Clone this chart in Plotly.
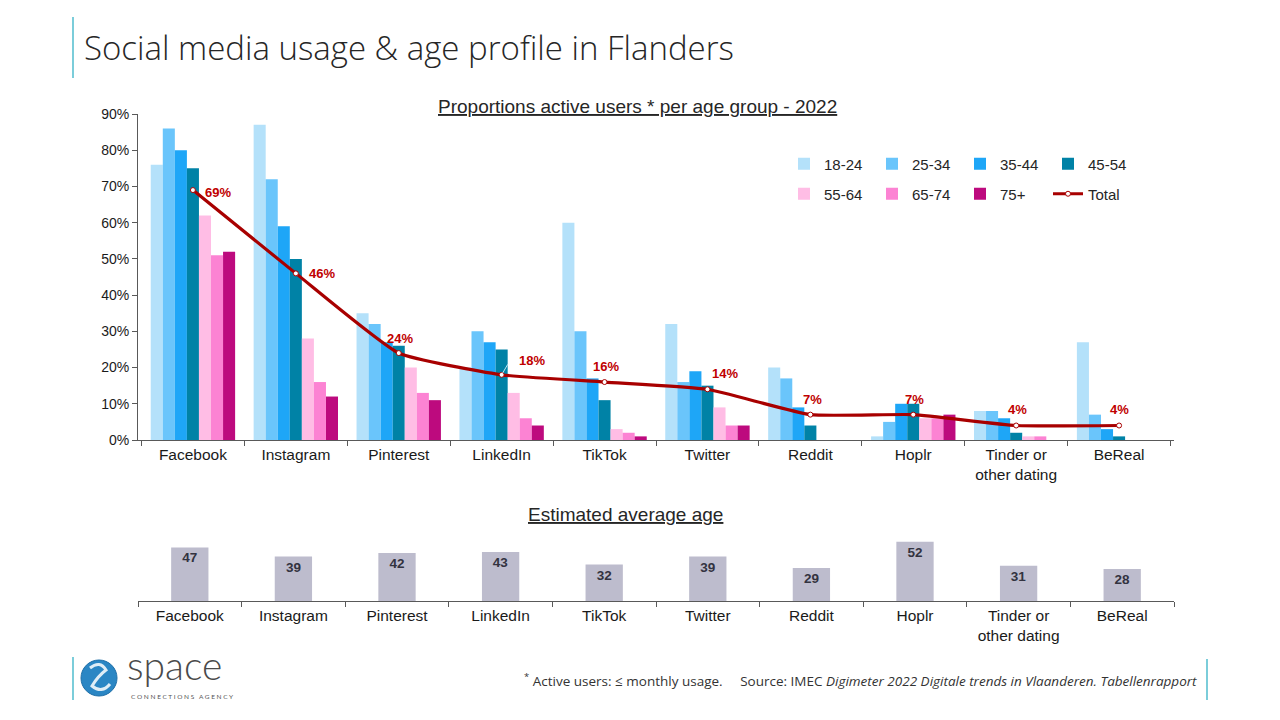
import plotly.graph_objects as go

W, H = 1280, 720

# ---------------- data ----------------
platforms = ["Facebook", "Instagram", "Pinterest", "LinkedIn", "TikTok", "Twitter",
             "Reddit", "Hoplr", "Tinder or<br>other dating", "BeReal"]
age_groups = ["18-24", "25-34", "35-44", "45-54", "55-64", "65-74", "75+"]
share_18_24 = [76, 87, 35, 20, 60, 32, 20, 1, 8, 27]
share_25_34 = [86, 72, 32, 30, 30, 16, 17, 5, 8, 7]
share_35_44 = [80, 59, 27, 27, 17, 19, 9, 10, 6, 3]
share_45_54 = [75, 50, 26, 25, 11, 15, 4, 10, 2, 1]
share_55_64 = [62, 28, 20, 13, 3, 9, 0, 6, 1, 0]
share_65_74 = [51, 16, 13, 6, 2, 4, 0, 6, 1, 0]
share_75_plus = [52, 12, 11, 4, 1, 4, 0, 7, 0, 0]
total_share = [69, 46, 24, 18, 16, 14, 7, 7, 4, 4]
avg_age = [47, 39, 42, 43, 32, 39, 29, 52, 31, 28]
y_tick_vals = [0, 10, 20, 30, 40, 50, 60, 70, 80, 90]
y_tick_text = ["0%", "10%", "20%", "30%", "40%", "50%", "60%", "70%", "80%", "90%"]

# ---------------- styles ----------------
age_colors = ["#B4E1FA", "#6AC5FB", "#1EA6F7", "#0082A6", "#FFBDE5", "#FC83D3", "#BD0A7E"]
series = [share_18_24, share_25_34, share_35_44, share_45_54, share_55_64, share_65_74, share_75_plus]
legend_of = ["legend", "legend", "legend", "legend", "legend2", "legend2", "legend2"]
label_shift = [(25, -2), (26, 0), (1, 15), (30, 14), (1, 16), (18, 16), (2, 15), (1, 15), (1, 16), (0, 16)]
leader_index = 3  # LinkedIn label has a small leader line

ARIAL = "Liberation Sans, Arial, sans-serif"
LIGHT = "Open Sans, Lato, sans-serif"
TEAL = "#35B2C6"
AX = "#595959"


def px(x):
    return x / W


def py(y):
    return 1 - y / H


fig = go.Figure()

for name, vals, col, lg in zip(age_groups, series, age_colors, legend_of):
    fig.add_trace(go.Bar(x=platforms, y=vals, name=name, marker=dict(color=col, line=dict(width=0)),
                         legend=lg, xaxis="x", yaxis="y", hoverinfo="x+y+name"))

fig.add_trace(go.Scatter(x=platforms, y=total_share, name="Total", mode="lines+markers",
                         line=dict(color="#A80000", width=3.2, shape="spline", smoothing=0.45),
                         marker=dict(symbol="circle", size=5, color="white",
                                     line=dict(color="#A80000", width=1)),
                         legend="legend2", xaxis="x", yaxis="y"))

fig.add_trace(go.Bar(x=platforms, y=avg_age, name="Estimated average age", showlegend=False,
                     marker=dict(color="#BDBCCD", line=dict(width=0)), width=0.36,
                     text=[str(v) for v in avg_age], textposition="inside", insidetextanchor="end",
                     textfont=dict(family=ARIAL, size=13.5, color="#333340", weight="bold"),
                     xaxis="x2", yaxis="y2"))

annotations = []
for i, (cat, v, (dx, dy)) in enumerate(zip(platforms, total_share, label_shift)):
    if i == leader_index:
        annotations.append(dict(x=cat, y=v, xref="x", yref="y", text="", showarrow=True,
                                arrowhead=0, arrowwidth=1, arrowcolor="#BFE8F2",
                                ax=7, ay=-12, standoff=2))
    annotations.append(dict(x=cat, y=v, xref="x", yref="y", text=f"<b>{v}%</b>", showarrow=False,
                            xshift=dx, yshift=dy, font=dict(family=ARIAL, size=13, color="#C00000")))

annotations += [
    dict(x=px(82), y=py(48), xref="paper", yref="paper", xanchor="left", yanchor="middle",
         text="Social media usage &amp; age profile in Flanders", showarrow=False,
         font=dict(family=LIGHT, size=33, color="#262626", weight=300)),
    dict(x=px(637), y=py(106), xref="paper", yref="paper", xanchor="center", yanchor="middle",
         text='<span style="text-decoration:underline">Proportions active users * per age group - 2022</span>',
         showarrow=False, font=dict(family=ARIAL, size=19, color="#262626")),
    dict(x=px(625), y=py(514), xref="paper", yref="paper", xanchor="center", yanchor="middle",
         text='<span style="text-decoration:underline">Estimated average age</span>',
         showarrow=False, font=dict(family=ARIAL, size=19, color="#262626")),
    dict(x=px(1199), y=py(680), xref="paper", yref="paper", xanchor="right", yanchor="middle",
         text="<sup>*</sup> Active users: ≤ monthly usage.\u00a0\u00a0\u00a0\u00a0 Source: IMEC "
              "<i>Digimeter 2022 Digitale trends in Vlaanderen. Tabellenrapport</i>",
         showarrow=False, font=dict(family=LIGHT, size=13.5, color="#333333")),
    dict(x=px(125), y=py(665), xref="paper", yref="paper", xanchor="left", yanchor="middle",
         text="space", showarrow=False,
         font=dict(family="Lato, sans-serif", size=39, color="#4a4a4a", weight=300)),
    dict(x=px(129), y=py(696), xref="paper", yref="paper", xanchor="left", yanchor="middle",
         text="C O N N E C T I O N S\u00a0\u00a0 A G E N C Y", showarrow=False,
         font=dict(family="Lato, sans-serif", size=6.5, color="#555555")),
]

shapes = [
    dict(type="line", xref="paper", yref="paper", x0=px(73), x1=px(73), y0=py(17), y1=py(78),
         line=dict(color=TEAL, width=1.3)),
    dict(type="line", xref="paper", yref="paper", x0=px(73), x1=px(73), y0=py(657), y1=py(700),
         line=dict(color=TEAL, width=1.3)),
    dict(type="line", xref="paper", yref="paper", x0=px(1207), x1=px(1207), y0=py(659), y1=py(700),
         line=dict(color=TEAL, width=1.3)),
    dict(type="circle", xref="paper", yref="paper", x0=px(81), x1=px(117), y0=py(696), y1=py(660),
         fillcolor="#2A86C4", line=dict(color="#1F6FA8", width=1)),
    dict(type="path", xref="paper", yref="paper",
         path=f"M {px(90)},{py(668)} Q {px(100)},{py(660)} {px(106)},{py(670)} "
              f"Q {px(98)},{py(676)} {px(92)},{py(686)} Q {px(102)},{py(694)} {px(110)},{py(684)}",
         line=dict(color="rgba(255,255,255,0.85)", width=3)),
]

legend_common = dict(orientation="h", xanchor="left", yanchor="middle", entrywidth=43,
                     entrywidthmode="pixels", bgcolor="rgba(0,0,0,0)", itemwidth=30,
                     font=dict(family=ARIAL, size=15, color="#262626"), itemclick=False)

axis_common = dict(showline=True, linecolor=AX, linewidth=1, ticks="outside", ticklen=5,
                   tickcolor=AX, showgrid=False, automargin=False)

fig.update_layout(
    width=W, height=H, margin=dict(l=0, r=0, t=0, b=0, pad=0, autoexpand=False),
    paper_bgcolor="white", plot_bgcolor="white",
    barmode="group", bargap=0.18, bargroupgap=0,
    font=dict(family=ARIAL, color="#262626"),
    legend=dict(x=px(784), y=py(164), **legend_common),
    legend2=dict(x=px(784), y=py(194), **legend_common),
    xaxis=dict(domain=[px(138), px(1174)], anchor="y", type="category", tickson="boundaries",
               tickfont=dict(family=ARIAL, size=15.5, color="#1a1a1a"), **axis_common),
    yaxis=dict(domain=[py(440), py(114)], anchor="x", range=[0, 90], tickmode="array",
               tickvals=y_tick_vals, ticktext=y_tick_text, zeroline=False,
               tickfont=dict(family=ARIAL, size=14, color="#1a1a1a"), **axis_common),
    xaxis2=dict(domain=[px(138), px(1174)], anchor="y2", type="category", tickson="boundaries",
                tickfont=dict(family=ARIAL, size=15.5, color="#1a1a1a"), **axis_common),
    yaxis2=dict(domain=[py(601), py(532.6)], anchor="x2", range=[0, 60], visible=False,
                automargin=False),
    annotations=annotations, shapes=shapes, showlegend=True,
)

fig.write_html("out.html", config={"displayModeBar": False},
               post_script="document.body.style.margin='0px';")
